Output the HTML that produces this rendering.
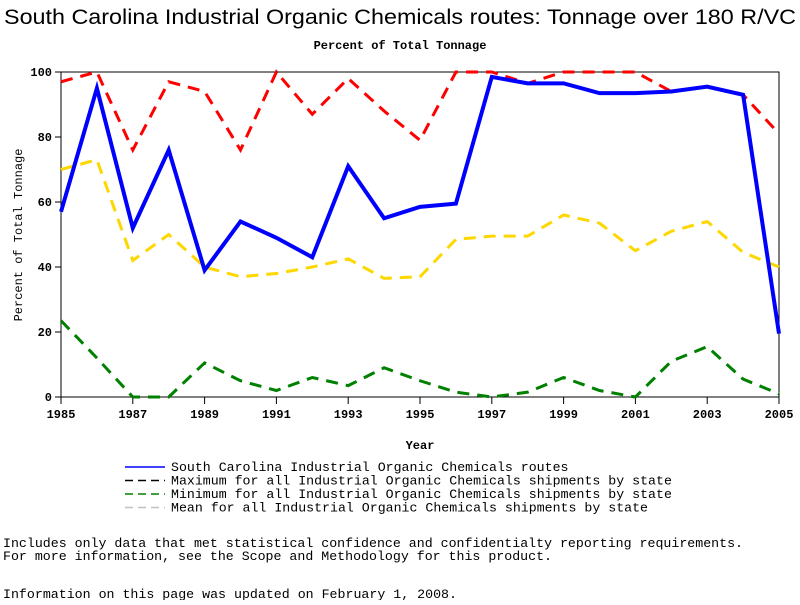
<!DOCTYPE html>
<html><head><meta charset="utf-8"><style>
body{margin:0;background:#fff;width:800px;height:600px;overflow:hidden;font-family:"Liberation Mono",monospace}
svg text{font-family:"Liberation Mono",monospace}
</style></head><body>
<svg id="c" width="800" height="600">
<text x="4" y="24" textLength="792" lengthAdjust="spacingAndGlyphs" font-size="21" style="font-family:'Liberation Sans',sans-serif">South Carolina Industrial Organic Chemicals routes: Tonnage over 180 R/VC</text>
<text x="400" y="49" text-anchor="middle" font-size="12" font-weight="bold">Percent of Total Tonnage</text>
<text x="22" y="235" text-anchor="middle" font-size="12" transform="rotate(-90 22 235)">Percent of Total Tonnage</text>
<text x="420" y="449" text-anchor="middle" font-size="12" font-weight="bold">Year</text>
<g id="plot"></g>
<g id="legend" font-size="13"></g>
<text x="3" y="547" font-size="13" textLength="740" lengthAdjust="spacingAndGlyphs">Includes only data that met statistical confidence and confidentialty reporting requirements.</text>
<text x="3" y="560" font-size="13" textLength="549" lengthAdjust="spacingAndGlyphs">For more information, see the Scope and Methodology for this product.</text>
<text x="3" y="598" font-size="13" textLength="454" lengthAdjust="spacingAndGlyphs">Information on this page was updated on February 1, 2008.</text>
</svg>
<script>
const years=[1985,1986,1987,1988,1989,1990,1991,1992,1993,1994,1995,1996,1997,1998,1999,2000,2001,2002,2003,2004,2005];
const stateVals=[57,95,52,76,39,54,49,43,71,55,58.5,59.5,98.5,96.5,96.5,93.5,93.5,94,95.5,93,19.5];
const maxVals=[97,100,76,97,94,76,100,87,98,88,79,100,100,96.5,100,100,100,94,95.5,93,81];
const minVals=[23.5,12,0,0,10.5,5,2,6,3.5,9,5,1.5,0,1.5,6,2,0,11,15.5,5.5,1];
const meanVals=[70,73,42,50,40,37,38,40,42.5,36.5,37,48.5,49.5,49.5,56,53.5,45,51,54,44.5,40];
const yTicks=[0,20,40,60,80,100];
const xTicks=[1985,1987,1989,1991,1993,1995,1997,1999,2001,2003,2005];
const NS="http://www.w3.org/2000/svg";
const L=61,R=779,T=72,B=397;
const xs=y=>L+(y-1985)/(2005-1985)*(R-L);
const ys=v=>B-v/100*(B-T);
const plot=document.getElementById('plot');
function mk(tag,attrs,parent){const e=document.createElementNS(NS,tag);for(const k in attrs)e.setAttribute(k,attrs[k]);(parent||plot).appendChild(e);return e;}
const frame=mk('rect',{x:L,y:T,width:R-L,height:B-T,fill:'none',stroke:'#000','stroke-width':1});


yTicks.forEach(v=>{
  const t=mk('line',{x1:L-6,x2:L,y1:ys(v),y2:ys(v),stroke:'#000'});
  
  
  const tx=mk('text',{x:L-9,y:ys(v)+4,'text-anchor':'end','font-size':12,'font-weight':'bold'});tx.textContent=v;
  
  
});
xTicks.forEach(v=>{
  const t=mk('line',{x1:xs(v),x2:xs(v),y1:B,y2:B+7,stroke:'#000'});
  
  
  const tx=mk('text',{x:xs(v),y:B+21,'text-anchor':'middle','font-size':12,'font-weight':'bold'});tx.textContent=v;
  
  
});
const series=[
 {vals:maxVals,color:'#ff0000',dash:'12,8',w:3,name:'max-line'},
 {vals:meanVals,color:'#ffd700',dash:'12,8',w:3,name:'mean-line'},
 {vals:minVals,color:'#008000',dash:'12,8',w:3,name:'min-line'},
 {vals:stateVals,color:'#0000ff',dash:'',w:4,name:'state-line'}
];
series.forEach(s=>{
  const pts=years.map((y,i)=>xs(y)+','+ys(s.vals[i])).join(' ');
  const p=mk('polyline',{points:pts,fill:'none',stroke:s.color,'stroke-width':s.w,'stroke-dasharray':s.dash,'stroke-linejoin':'miter'});
  
  
});
const leg=document.getElementById('legend');
const legItems=[
 ['South Carolina Industrial Organic Chemicals routes','#0000ff',''],
 ['Maximum for all Industrial Organic Chemicals shipments by state','#000','8,5'],
 ['Minimum for all Industrial Organic Chemicals shipments by state','#008000','8,5'],
 ['Mean for all Industrial Organic Chemicals shipments by state','#c0c0c0','8,5']];
legItems.forEach((it,i)=>{
  const y=467+i*13.5;
  const g=mk('g',{},leg);
  
  
  mk('line',{x1:125,x2:165,y1:y,y2:y,stroke:it[1],'stroke-width':1.5,'stroke-dasharray':it[2]},g);
  const t=mk('text',{x:171,y:y+4,'font-size':13,textLength:(it[0].length*7.95).toFixed(1),lengthAdjust:'spacingAndGlyphs'},g);t.textContent=it[0];
});
</script>
</body></html>
